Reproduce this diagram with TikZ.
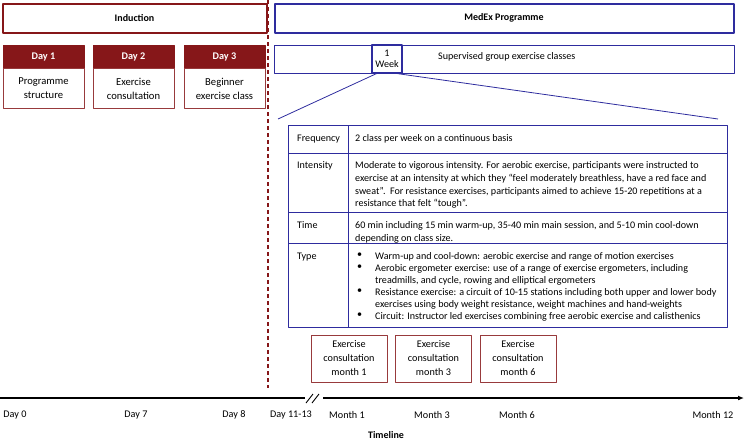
\documentclass[tikz,border=0pt]{standalone}
\usepackage{fontspec}
\setmainfont{Carlito}
\usetikzlibrary{positioning,arrows.meta}
\definecolor{indred}{RGB}{134,23,25}
\definecolor{medblue}{RGB}{46,44,158}
\tikzset{
  txt/.style={font=\fontsize{10.1}{12.7}\selectfont, inner sep=0pt, align=left},
  headbox/.style={draw=#1, line width=2pt, minimum height=29pt, font=\fontsize{10}{12}\selectfont\bfseries},
  dayhead/.style={fill=indred, draw=indred, text=white, minimum width=81pt, minimum height=23pt, inner sep=0pt, font=\fontsize{10.2}{12}\selectfont\bfseries},
  daybody/.style={draw=indred!85, minimum width=81pt, minimum height=40pt, inner sep=0pt, align=center, font=\fontsize{10.6}{14}\selectfont},
  consult/.style={draw=indred!85, line width=0.8pt, minimum width=76pt, minimum height=47pt, inner sep=0pt, align=center, font=\fontsize{10.2}{14}\selectfont},
  tick/.style={font=\fontsize{10.2}{12}\selectfont, inner sep=0pt}
}
\begin{document}
\begin{tikzpicture}[x=1pt,y=-1pt, line join=round]
  \useasboundingbox (0,0) rectangle (745,442);
  % phase headers
  \node[headbox=indred, minimum width=264pt] (ind) at (134.5,18) {Induction};
  \node[headbox=medblue, minimum width=459pt] (medex) at (504,18) {MedEx Programme};
  % induction days
  \node[dayhead] (d1) at (43.5,56.5) {Day 1};
  \node[dayhead] (d2) at (133.5,56.5) {Day 2};
  \node[dayhead] (d3) at (224.5,56.5) {Day 3};
  \node[daybody, below=0pt of d1] (b1) {Programme\\structure};
  \node[daybody, below=0pt of d2] (b2) {Exercise\\consultation};
  \node[daybody, below=0pt of d3] (b3) {Beginner\\exercise class};
  \draw[indred, line width=1.2pt, dash pattern=on 4pt off 3pt] (268,0) -- (268,388);
  % supervised classes
  \node[draw=medblue, minimum width=460pt, minimum height=28pt, inner sep=0pt] (bar) at (504,59) {};
  \node[draw=medblue, line width=1.3pt, fill=white, minimum width=30pt, minimum height=28pt, inner sep=0pt, align=center, font=\fontsize{10.1}{11}\selectfont] (week) at (387,59) {1\\Week};
  \node[txt, anchor=west] (sup) at (438,57) {Supervised group exercise classes};
  \coordinate (lz) at (278,119);
  \coordinate (rz) at (718,119);
  \draw[medblue, line width=0.8pt] ([xshift=5pt]week.south west) -- (lz);
  \draw[medblue, line width=0.8pt] ([xshift=-5pt]week.south east) -- (rz);
  % FITT table
  \draw[medblue, line width=1pt] (288,125) rectangle (727,327);
  \draw[medblue, line width=1pt] (348,125) -- (348,327);
  \foreach \y in {153,212,243} \draw[medblue, line width=1pt] (288,\y) -- (727,\y);
  \node[txt, anchor=north west] (lf) at (297,134.5) {Frequency};
  \node[txt, anchor=north west] (li) at (297,161.5) {Intensity};
  \node[txt, anchor=north west] (lt) at (297,221.5) {Time};
  \node[txt, anchor=north west] (ly) at (297,252.5) {Type};
  \node[txt, anchor=north west] (cf) at (355,134.5) {2 class per week on a continuous basis};
  \node[txt, anchor=north west] (ci) at (355,161.5) {Moderate to vigorous intensity. For aerobic exercise, participants were instructed to\\exercise at an intensity at which they “feel moderately breathless, have a red face and\\sweat”.\ \ For resistance exercises, participants aimed to achieve 15-20 repetitions at a\\resistance that felt “tough”.};
  \node[txt, anchor=north west] (ct) at (355,221.5) {60 min including 15 min warm-up, 35-40 min main session, and 5-10 min cool-down\\depending on class size.};
  \foreach \y in {252.5,264.5,288.5,312.5} \node[txt, anchor=north west] at (357,\y) {•};
  \node[txt, anchor=north west, font=\fontsize{10.1}{12}\selectfont] (ty) at (375,252.5) {Warm-up and cool-down: aerobic exercise and range of motion exercises\\Aerobic ergometer exercise: use of a range of exercise ergometers, including\\treadmills, and cycle, rowing and elliptical ergometers\\Resistance exercise: a circuit of 10-15 stations including both upper and lower body\\exercises using body weight resistance, weight machines and hand-weights\\Circuit: Instructor led exercises combining free aerobic exercise and calisthenics};
  % consultations
  \node[consult] (m1) at (349,358.5) {Exercise\\consultation\\month 1};
  \node[consult] (m3) at (433.5,358.5) {Exercise\\consultation\\month 3};
  \node[consult] (m6) at (518,358.5) {Exercise\\consultation\\month 6};
  % timeline
  \coordinate (t0) at (0,398);
  \coordinate (tb) at (305,398);
  \coordinate (ta) at (323,398);
  \coordinate (te) at (744,398);
  \draw[line width=1.2pt] (t0) -- (tb);
  \draw[line width=1.2pt, -{Latex[length=6pt,width=5pt]}] (ta) -- (te);
  \draw[line width=0.9pt] (306,403) -- (313,394);
  \draw[line width=0.9pt] (312,403) -- (319,394);
  \node[tick] (x0) at (15,415) {Day 0};
  \node[tick] (x7) at (136,415) {Day 7};
  \node[tick] (x8) at (234,415) {Day 8};
  \node[tick] (x11) at (291,415) {Day 11-13};
  \node[tick] (xm1) at (347,415) {Month 1};
  \node[tick] (xm3) at (432,415) {Month 3};
  \node[tick] (xm6) at (517,415) {Month 6};
  \node[tick] (xm12) at (713,415) {Month 12};
  \node[tick, font=\fontsize{10}{12}\selectfont\bfseries] (tl) at (386,435.5) {Timeline};
\end{tikzpicture}
\end{document}
